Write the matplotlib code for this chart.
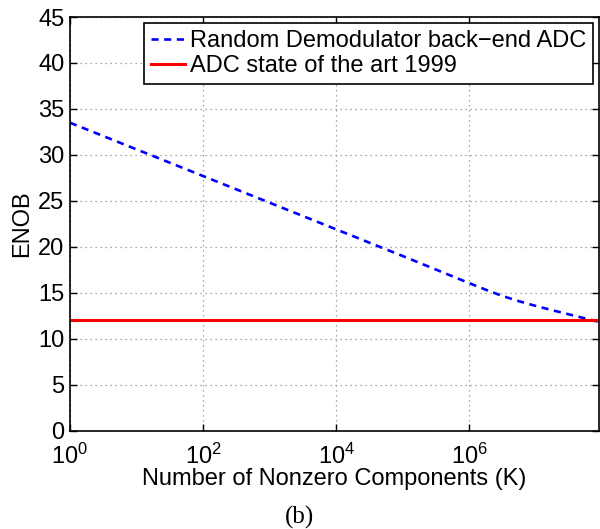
import math
import matplotlib
matplotlib.use("Agg")
import matplotlib.pyplot as plt
from matplotlib.ticker import FixedLocator, FuncFormatter, NullLocator

plt.rcParams['font.family'] = ['Liberation Sans', 'DejaVu Sans']
plt.rcParams['mathtext.fontset'] = 'custom'
plt.rcParams['mathtext.rm'] = 'Liberation Sans'
plt.rcParams['mathtext.it'] = 'Liberation Sans:italic'
plt.rcParams['mathtext.bf'] = 'Liberation Sans:bold'

# Data
k_rd = [1, 10, 1e2, 1e3, 1e4, 1e5, 1e6, 10**6.25, 10**6.5, 10**6.75,
        1e7, 10**7.25, 10**7.5, 10**7.75, 10**7.95]
enob_rd = [33.5, 30.6, 27.7, 24.8, 21.9, 19.0, 16.05, 15.33, 14.65, 14.08,
           13.57, 13.1, 12.65, 12.2, 11.83]
k_art = [1, 10**7.95]
enob_art = [12, 12]
label_rd = 'Random Demodulator back\u2212end ADC'
label_art = 'ADC state of the art 1999'
xticks = [1, 1e2, 1e4, 1e6]
yticks = list(range(0, 50, 5))

fig = plt.figure(figsize=(6.0, 5.29), dpi=100)
ax = fig.add_axes([70/600, 1-430.7/529, 529/600, 413.7/529])

ax.plot(k_rd, enob_rd, color=(0, 0, 1), lw=1.9, dashes=(2.7, 2.1), label=label_rd)
ax.plot(k_art, enob_art, color=(1, 0, 0), lw=2.2, label=label_art)

ax.set_xscale('log')
ax.set_xlim(1, 10**7.95)
ax.set_ylim(0, 45)
ax.xaxis.set_major_locator(FixedLocator(xticks))
ax.xaxis.set_minor_locator(NullLocator())
ax.xaxis.set_major_formatter(FuncFormatter(lambda v, p: r'$\mathregular{10^{%d}}$' % round(math.log10(v))))
ax.set_yticks(yticks)

ax.tick_params(direction='in', top=True, right=True, length=5, width=1.0,
               labelsize=17, pad=4)
ax.tick_params(axis='x', pad=9)
for s in ax.spines.values():
    s.set_linewidth(1.2)
ax.grid(True, which='major', linestyle=(0, (1, 3)), color=(0.55, 0.55, 0.55), lw=0.9)

ax.set_xlabel('Number of Nonzero Components (K)', fontsize=17, labelpad=0)
ax.set_ylabel('ENOB', fontsize=17, labelpad=4)

leg = ax.legend(loc='upper right', bbox_to_anchor=((593-70)/529, (430.7-23)/413.7),
                borderaxespad=0, fontsize=17, handlelength=1.45, handletextpad=0.2,
                labelspacing=0.12, borderpad=0.3, fancybox=False, framealpha=1,
                edgecolor='black')
leg.get_frame().set_linewidth(1.2)

fig.text(0.5, 1-517/529, '(b)', ha='center', va='center', fontsize=18,
         family=['Liberation Serif', 'DejaVu Serif'])

fig.savefig('out.png', dpi=100)
